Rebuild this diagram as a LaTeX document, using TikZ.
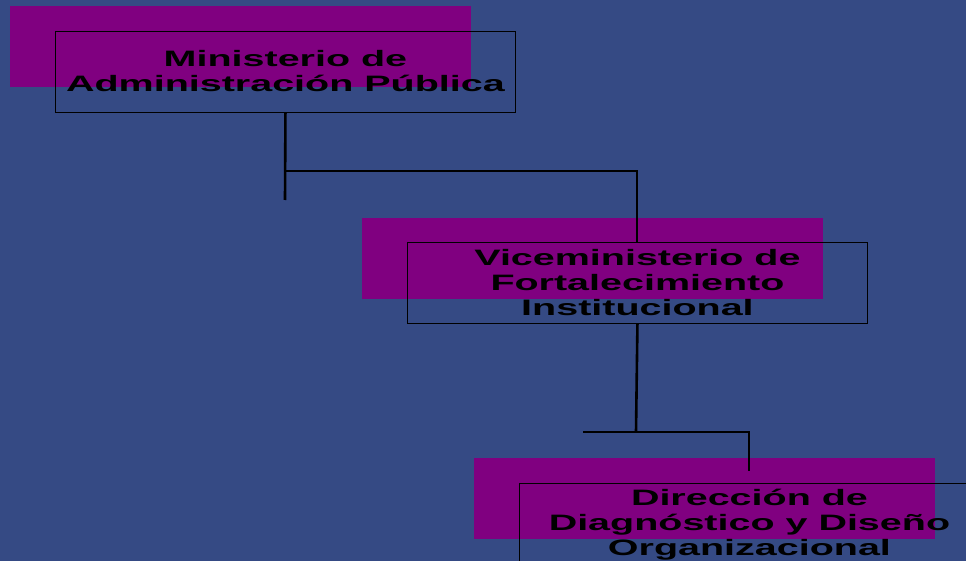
\documentclass[tikz,border=0pt]{standalone}
\usepackage{fontspec}
\setmainfont{Liberation Sans}
\definecolor{bgblue}{RGB}{53,74,132}
\definecolor{pur}{RGB}{128,0,128}
\newcommand{\boxtext}[1]{\scalebox{1.77}[1]{\begin{tabular}{@{}c@{}}#1\end{tabular}}}
\begin{document}
\begin{tikzpicture}[x=1pt,y=-1pt]
\tikzset{
  shadebox/.style={fill=pur, draw=none, minimum width=461pt, minimum height=81pt, inner sep=0pt, anchor=north west},
  framebox/.style={draw=black, line width=0.9pt, minimum width=460pt, minimum height=81pt, inner sep=0pt, anchor=north west},
  boxlabel/.style={inner sep=0pt, font=\bfseries\fontsize{22.3}{25}\selectfont, text=black},
  vconn/.style={line width=2.6pt, black},
  hconn/.style={line width=2pt, black}
}
\fill[bgblue] (0,0) rectangle (966,561);
\useasboundingbox (0,0) rectangle (966,561);
\node[shadebox] (p1) at (10,6) {};
\node[shadebox] (p2) at (362,218) {};
\node[shadebox] (p3) at (474,458) {};
\node[framebox] (f1) at (55,31) {};
\node[framebox] (f2) at (407,242) {};
\node[framebox] (f3) at (519,483) {};
\node[boxlabel] (t1) at ([yshift=-2pt]f1.center) {\boxtext{Ministerio de\\Administración Pública}};
\node[boxlabel] (t2) at ([yshift=-2.5pt]f2.center) {\boxtext{Viceministerio de\\Fortalecimiento\\Institucional}};
\node[boxlabel] (t3) at ([yshift=-2pt]f3.center) {\boxtext{Dirección de\\Diagnóstico y Diseño\\Organizacional}};
\coordinate (j1) at (285,171);
\coordinate (s1) at (285,200);
\coordinate (j2) at (636,432);
\coordinate (l2) at (583,432);
\coordinate (e3) at (749,471);
\draw[vconn] (f1.south) -- (s1);
\draw[hconn] (j1) -| (f2.north);
\draw[vconn] (f2.south) -- (j2);
\draw[hconn] (l2) -| (e3);
\end{tikzpicture}
\end{document}
